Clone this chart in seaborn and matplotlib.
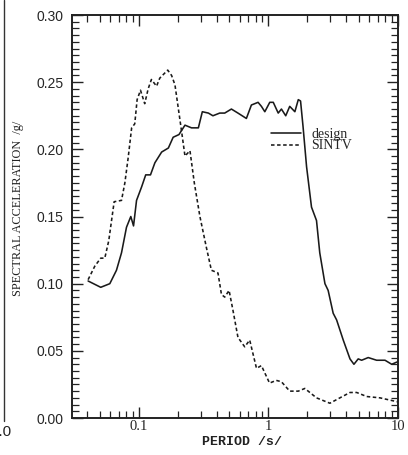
import numpy as np
import pandas as pd
import matplotlib
matplotlib.use('Agg')
import matplotlib.pyplot as plt
import matplotlib.ticker as mticker
from matplotlib.lines import Line2D
import seaborn as sns

# design spectrum
design_period = [0.0406, 0.0508, 0.0597, 0.0672, 0.0735, 0.0803, 0.0867, 0.091, 0.096,
                 0.105, 0.113, 0.123, 0.133, 0.150, 0.169, 0.184, 0.204, 0.227, 0.255,
                 0.288, 0.309, 0.344, 0.373, 0.421, 0.460, 0.518, 0.582, 0.676, 0.739,
                 0.832, 0.883, 0.938, 1.024, 1.09, 1.19, 1.26, 1.36, 1.46, 1.60, 1.70,
                 1.77, 1.85, 1.97, 2.15, 2.35, 2.49, 2.73, 2.89, 3.16, 3.36, 3.78, 4.26,
                 4.57, 4.93, 5.24, 5.89, 6.84, 7.94, 8.94, 10.0]
design_acc = [0.102, 0.0973, 0.100, 0.110, 0.123, 0.142, 0.150, 0.143, 0.162,
              0.172, 0.181, 0.181, 0.190, 0.198, 0.201, 0.209, 0.211, 0.218, 0.216,
              0.216, 0.228, 0.227, 0.225, 0.227, 0.227, 0.230, 0.227, 0.223, 0.233,
              0.235, 0.232, 0.228, 0.235, 0.235, 0.227, 0.230, 0.225, 0.232, 0.228, 0.237,
              0.236, 0.217, 0.187, 0.157, 0.147, 0.123, 0.100, 0.095, 0.078, 0.073, 0.058, 0.044,
              0.040, 0.044, 0.043, 0.045, 0.043, 0.043, 0.040, 0.042]

# SINTV record spectrum
sintv_period = [0.0406, 0.0457, 0.0508, 0.0546, 0.0586, 0.0645, 0.0735, 0.078, 0.0828,
                0.088, 0.093, 0.097, 0.103, 0.111, 0.118, 0.125, 0.137, 0.145, 0.167,
                0.179, 0.190, 0.202, 0.214, 0.227, 0.248, 0.268, 0.296, 0.332, 0.363,
                0.408, 0.434, 0.460, 0.497, 0.533, 0.582, 0.656, 0.717, 0.809, 0.883,
                1.02, 1.15, 1.26, 1.46, 1.70, 1.91, 2.35, 2.98, 3.56, 4.26, 4.80, 5.73,
                7.26, 10.0]
sintv_acc = [0.103, 0.113, 0.119, 0.119, 0.132, 0.161, 0.162, 0.175, 0.194,
             0.216, 0.219, 0.237, 0.244, 0.234, 0.245, 0.252, 0.247, 0.253, 0.259,
             0.255, 0.248, 0.230, 0.213, 0.195, 0.199, 0.175, 0.150, 0.127, 0.110,
             0.108, 0.092, 0.090, 0.095, 0.080, 0.060, 0.053, 0.058, 0.037, 0.039,
             0.026, 0.028, 0.027, 0.020, 0.020, 0.022, 0.015, 0.011, 0.015, 0.019, 0.019, 0.016,
             0.015, 0.012]

df = pd.concat([
    pd.DataFrame({'period': design_period, 'acc': design_acc, 'series': 'design'}),
    pd.DataFrame({'period': sintv_period, 'acc': sintv_acc, 'series': 'SINTV'}),
])

sns.set_style('ticks')
plt.rcParams['font.family'] = ['Liberation Serif', 'DejaVu Serif']

fig = plt.figure(figsize=(4.08, 4.55), dpi=100)
ax = fig.add_axes([0.1765, 0.0813, 0.799, 0.8857])

sns.lineplot(data=df, x='period', y='acc', hue='series', style='series',
             palette={'design': '#1a1a1a', 'SINTV': '#1a1a1a'},
             dashes={'design': '', 'SINTV': (2.2, 1.6)},
             linewidth=1.15, sort=False, ax=ax, legend=False)

ax.set_xscale('log')
ax.set_xlim(0.0305, 10)
ax.set_ylim(0, 0.30)
ax.xaxis.set_major_locator(mticker.FixedLocator([0.1, 1, 10]))
ax.xaxis.set_major_formatter(mticker.FixedFormatter(['0.1', '1', '10']))
ax.xaxis.set_minor_locator(mticker.LogLocator(base=10, subs=np.arange(2, 10)))
ax.xaxis.set_minor_formatter(mticker.NullFormatter())
ax.yaxis.set_major_locator(mticker.MultipleLocator(0.05))
ax.yaxis.set_minor_locator(mticker.MultipleLocator(0.005))
ax.yaxis.set_major_formatter(mticker.FormatStrFormatter('%.2f'))

ax.tick_params(which='both', direction='in', top=True, right=True, color='#222222')
ax.tick_params(which='major', length=8, width=1.0)
ax.tick_params(which='minor', length=5, width=0.9)
ax.tick_params(axis='x', labelsize=10.5, pad=1.5)
ax.tick_params(axis='y', labelsize=10, pad=6)
for lab in ax.get_yticklabels():
    lab.set_family(['Liberation Sans', 'DejaVu Sans'])
for sp in ax.spines.values():
    sp.set_linewidth(1.4)
    sp.set_color('#222222')

ax.set_xlabel('')
ax.set_ylabel('')
fig.text(0.592, 0.028, 'PERIOD /s/', family=['Liberation Mono', 'DejaVu Sans Mono'],
         fontsize=9.5, fontweight='bold', ha='center', va='center', color='#222222')
fig.text(0.044, 0.543, 'SPECTRAL ACCELERATION  /g/', rotation=90, fontsize=8.8,
         ha='center', va='center', color='#222222')

handles = [Line2D([], [], color='#1a1a1a', lw=1.15),
           Line2D([], [], color='#1a1a1a', lw=1.15, dashes=(2.2, 1.6))]
ax.legend(handles, ['design', 'SINTV'], loc='upper left', bbox_to_anchor=(0.61, 0.72),
          frameon=False, fontsize=10, handlelength=2.2, handletextpad=0.7,
          labelspacing=-0.1, borderpad=0, borderaxespad=0)

# edge of the neighbouring panel in the scan
fig.add_artist(Line2D([0.011, 0.011], [0.075, 1.0], color='#333333', lw=1.0))
fig.text(-0.022, 0.05, '1.0', fontsize=11, ha='left', va='center', color='#222222',
         family=['Liberation Sans', 'DejaVu Sans'])

fig.savefig('out.png', dpi=100)
